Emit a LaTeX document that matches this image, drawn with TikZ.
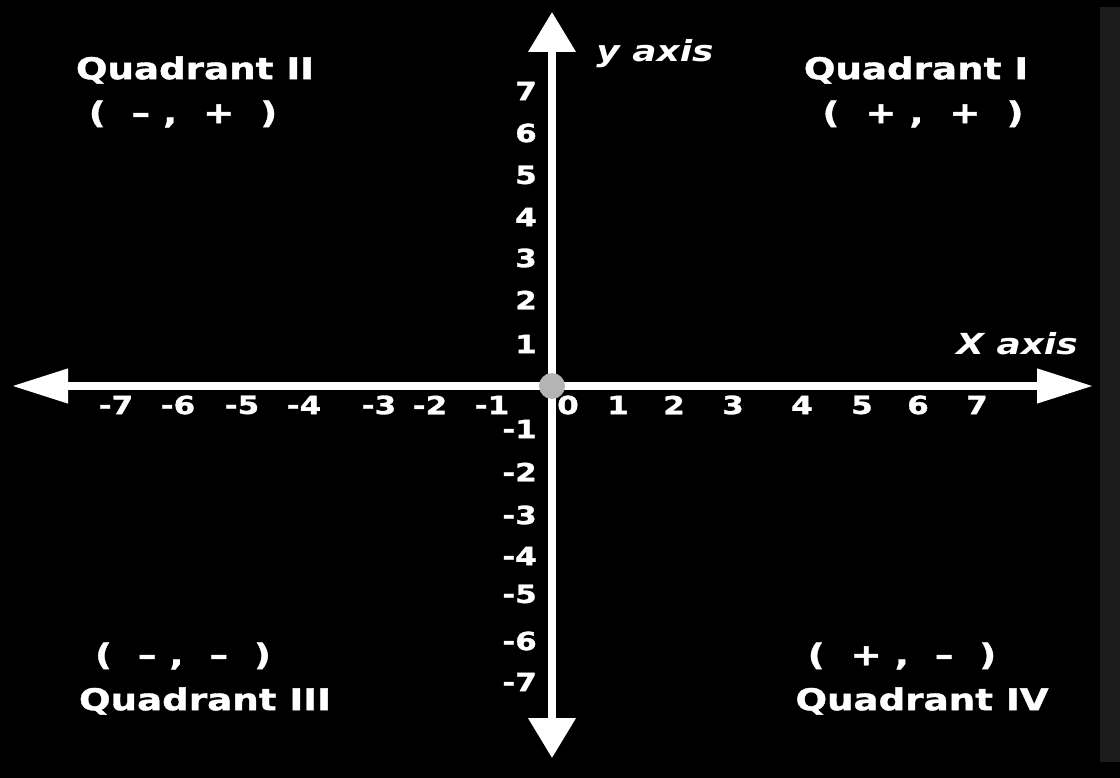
\documentclass[tikz,border=0pt]{standalone}
\usepackage{fontspec}
\setmainfont{DejaVu Sans}[FakeStretch=1.24, BoldFeatures={FakeBold=1.3}]
\usetikzlibrary{arrows.meta,positioning}

\definecolor{origingray}{RGB}{180,180,180}
\definecolor{edgegray}{RGB}{28,28,28}

\begin{document}
\begin{tikzpicture}[
        x=1pt, y=-1pt,
        every node/.style={text=white, inner sep=0pt},
        axis/.style={draw=white, line width=7.5pt},
        tick/.style={font=\bfseries\fontsize{25}{25}\selectfont},
        quad/.style={font=\bfseries\fontsize{30}{30}\selectfont},
        axislabel/.style={font=\bfseries\itshape\fontsize{29}{29}\selectfont},
    ]
    \useasboundingbox (0,0) rectangle (1120,778);

    % === BACKGROUND ===
    \fill[black] (0,0) rectangle (1120,778);
    \fill[edgegray] (1100,7) rectangle (1120,762);

    % === AXES ===
    \coordinate (xl) at (12,386);
    \coordinate (xr) at (1093,386);
    \coordinate (yt) at (552,12);
    \coordinate (yb) at (552,758);

    \draw[axis, {Triangle[length=56pt,width=33pt]}-{Triangle[length=56pt,width=33pt]}] (xl) -- (xr);
    \draw[axis, {Triangle[length=40pt,width=46pt]}-{Triangle[length=40pt,width=46pt]}] (yb) -- (yt);

    \node[circle, fill=origingray, minimum size=26pt] (o) at (552,386) {};

    \node[axislabel] (xlab) at (1017,344) {X axis};
    \node[axislabel] (ylab) at (655,54) {y axis};

    % === TICK LABELS ===
    \foreach \n/\px in {-7/116,-6/178,-5/242,-4/304,-3/379,-2/430,-1/492,0/568,1/618,2/674,3/733,4/802,5/862,6/918,7/977}
        \node[tick] (xt\n) at (\px,405) {\n};

    \foreach \n/\py in {7/91,6/133,5/175,4/217,3/258,2/300,1/344,-1/429,-2/472,-3/515,-4/556,-5/594,-6/641,-7/682}
        \node[tick, anchor=east] (yt\n) at (537,\py) {\n};

    % === QUADRANTS ===
    \node[quad] (q2) at (195,70) {Quadrant II};
    \node[quad] (s2) at (183,114) {(~~–~,~~+~~)};

    \node[quad] (q1) at (916,70) {Quadrant I};
    \node[quad] (s1) at (923,114) {(~~+~,~~+~~)};

    \node[quad] (s3) at (183,656) {(~~–~,~~–~~)};
    \node[quad] (q3) at (205,701) {Quadrant III};

    \node[quad] (s4) at (902,656) {(~~+~,~~–~~)};
    \node[quad] (q4) at (922,701) {Quadrant IV};

\end{tikzpicture}
\end{document}
